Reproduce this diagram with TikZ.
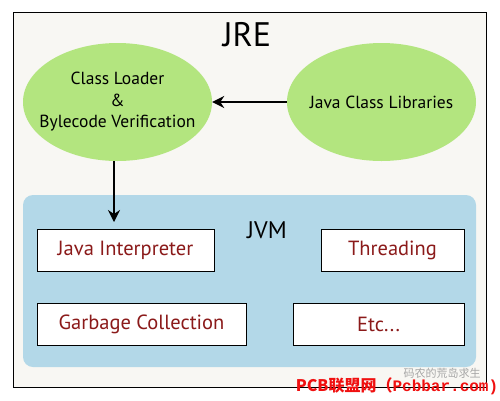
\documentclass[tikz,border=0pt]{standalone}
\usepackage{fontspec}
\setmainfont{PT Sans}
\newfontfamily\cjkfont{Noto Sans CJK SC}
\newfontfamily\wmmono{Liberation Mono}
\usetikzlibrary{arrows.meta,shapes.geometric}
\definecolor{framebg}{HTML}{F8F7F3}
\definecolor{ellgreen}{HTML}{B3E57F}
\definecolor{jvmblue}{HTML}{B3D8E8}
\definecolor{boxtext}{HTML}{8B1A1A}
\definecolor{wmred}{HTML}{F01010}
\tikzset{
  ell/.style={ellipse, fill=ellgreen, inner sep=0pt, minimum width=189pt, minimum height=118pt},
  elltext/.style={inner sep=0pt, font=\fontsize{17.5}{21.5}\selectfont, align=center},
  compbox/.style={draw=black, line width=1pt, fill=white, inner sep=0pt, text=boxtext, font=\fontsize{20.5}{22}\selectfont},
  conn/.style={line width=1.6pt, -{Stealth[length=12pt,width=12pt]}},
}
\begin{document}
\begin{tikzpicture}[x=1pt,y=-1pt]
\useasboundingbox (0,0) rectangle (500,400);
\fill[white] (0,0) rectangle (500,400);
\node[draw=black, line width=1pt, fill=framebg, minimum width=473pt, minimum height=375pt, inner sep=0pt] (jre) at (249.5,199.5) {};
\node[font=\fontsize{34}{36}\selectfont] (jrelabel) at (247,35) {JRE};
\node[ell] (loader) at (117.5,102) {};
\node[elltext] (loadertext) at (loader.center) {Class Loader\\\&\\Bylecode Verification};
\node[ell] (libs) at (381.5,102) {};
\node[elltext] (libstext) at (libs.center) {Java Class Libraries};
\node[fill=jvmblue, rounded corners=10pt, minimum width=453pt, minimum height=172pt, inner sep=0pt] (jvm) at (249.5,281) {};
\node[font=\fontsize{24}{26}\selectfont] (jvmlabel) at (267,230) {JVM};
\node[compbox, minimum width=177pt, minimum height=42pt] (interp) at (125.5,250) {Java Interpreter};
\node[compbox, minimum width=209pt, minimum height=42pt] (gc) at (141.5,324) {Garbage Collection};
\node[compbox, minimum width=143pt, minimum height=42pt] (thread) at (392.5,250) {Threading};
\node[compbox, minimum width=171pt, minimum height=42pt] (etc) at (378.5,324) {Etc...};
\coordinate (arrowend) at (114,222);
\draw[conn] (libs.west) -- (loader.east);
\draw[conn] (loader.south -| arrowend) -- (arrowend);
\node[text=black!35, inner sep=0pt, font=\cjkfont\fontsize{11}{12}\selectfont] (wmgray) at (442,373) {码农的荒岛求生};
\node[text=wmred, inner sep=0pt, font=\fontsize{16}{18}\selectfont] (wmred) at (397,386) {\cjkfont\bfseries PCB联盟网（\wmmono\bfseries Pcbbar.com)};
\end{tikzpicture}
\end{document}
